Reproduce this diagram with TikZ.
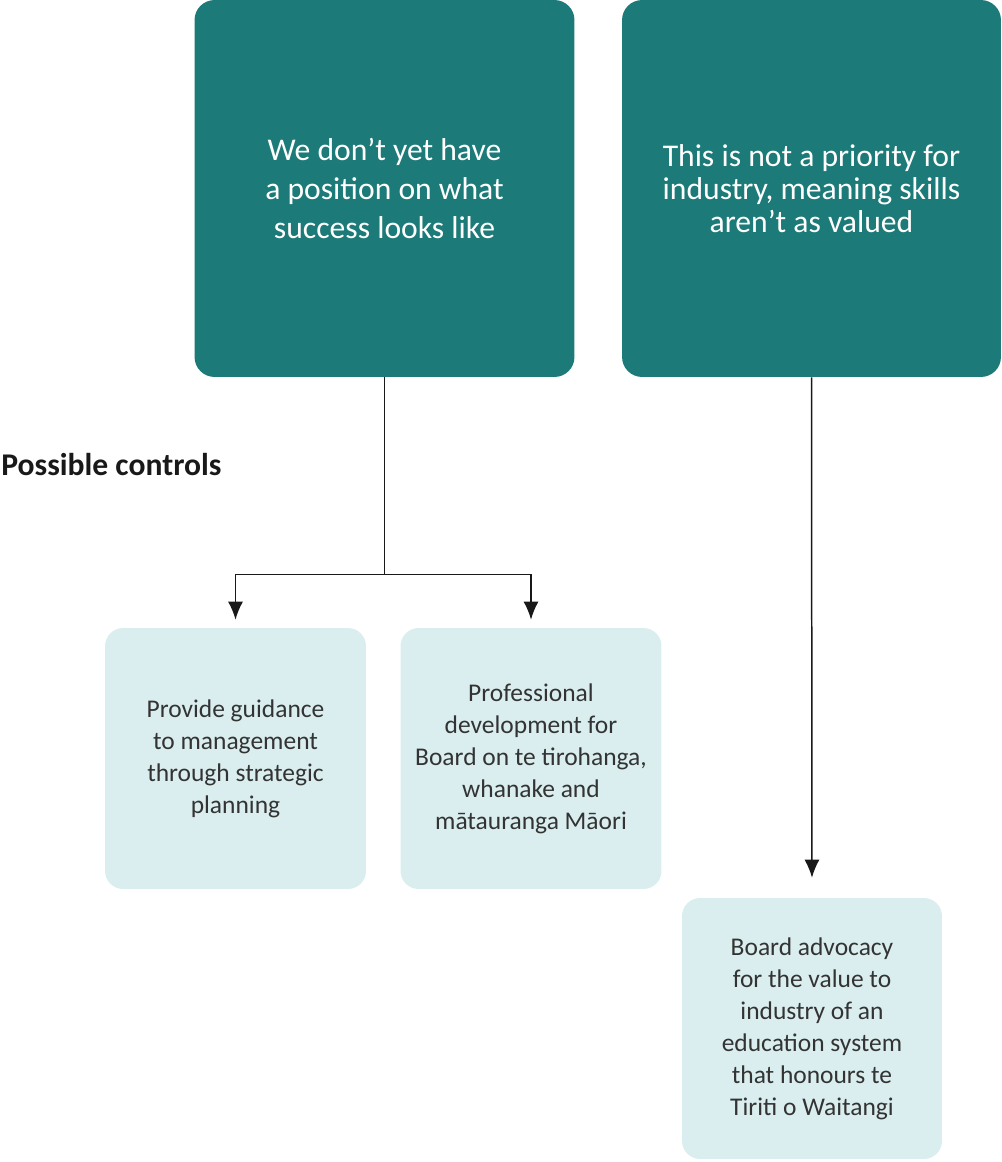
\documentclass[tikz,border=0pt]{standalone}
\usepackage{fontspec}
\setmainfont{Carlito}
\usetikzlibrary{arrows.meta}
\definecolor{riskteal}{HTML}{1C7A78}
\definecolor{ctrlpale}{HTML}{DAEEEF}
\definecolor{inkgrey}{HTML}{333333}
\tikzstyle{risk}=[fill=riskteal, text=white, rounded corners=0.4cm, minimum width=7.6cm,
  minimum height=7.54cm, align=center, font=\fontsize{18}{22.2}\selectfont]
\tikzstyle{control}=[fill=ctrlpale, text=inkgrey, rounded corners=0.36cm, minimum width=5.22cm,
  minimum height=5.22cm, align=center, font=\fontsize{14.5}{18.2}\selectfont]
\tikzstyle{link}=[draw=black!90, line width=0.85pt, -{Latex[length=0.36cm,width=0.3cm]}]

\begin{document}
\begin{tikzpicture}[x=0.02cm, y=-0.02cm]
\useasboundingbox (0,0) rectangle (1001,1162);
\draw (384.5,188.5) node[risk](risk1){We don't yet have\\a position on what\\success looks like};
\draw (811.5,188.5) node[risk, minimum width=7.58cm, font=\fontsize{18}{18.8}\selectfont](risk2)
  {This is not a priority for\\industry, meaning skills\\aren't as valued};
%
\draw (1,465) node[anchor=west, inner sep=0pt, text=black!90, font=\fontsize{18}{21}\selectfont\bfseries]
  (heading){Possible controls};
%
\draw (235.5,758.5) node[control](ctrl1){Provide guidance\\to management\\through strategic\\planning};
\draw (531,758.5) node[control](ctrl2){Professional\\development for\\Board on te tirohanga,\\whanake and\\mātauranga Māori};
\draw (812,1028.5) node[control, minimum width=5.2cm](ctrl3)
  {Board advocacy\\for the value to\\industry of an\\education system\\that honours te\\Tiriti o Waitangi};
%
\draw[draw=black!90, line width=0.85pt] (risk1.south) -- ++(0,197) coordinate(split);
\draw[link, shorten >=0.16cm] (split) -| (ctrl1.north);
\draw[link, shorten >=0.16cm] (split) -| (ctrl2.north);
\draw[link, shorten >=0.4cm] (risk2.south) -- (ctrl3.north);
\end{tikzpicture}
\end{document}
